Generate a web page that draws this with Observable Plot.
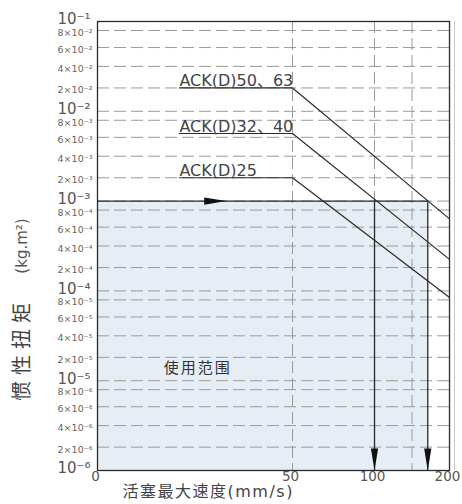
<!DOCTYPE html>
<html>
<head>
<meta charset="utf-8">
<script src="https://cdn.jsdelivr.net/npm/d3@7"></script>
<script src="https://cdn.jsdelivr.net/npm/@observablehq/plot@0.6"></script>
<style>
  html, body { margin: 0; padding: 0; background: #fff; }
</style>
</head>
<body>
<script>
// ---- data ----
const seriesNames = ["ACK(D)50、63", "ACK(D)32、40", "ACK(D)25"];
const labelSpeed = [21, 21, 21];          // mm/s where the plateau (and label) starts
const kneeSpeed = [50, 50, 50];           // mm/s where the curve starts falling
const endSpeed = [200, 200, 200];         // mm/s
const plateauInertia = [2e-2, 6.4e-3, 2e-3]; // kg·m²
const endInertia = [6.9e-4, 2.6e-4, 8.5e-5]; // kg·m² at 200 mm/s

const rangeLimitInertia = 1e-3;           // top of 使用范围
const rangeMaxSpeed = 171;                // right edge of 使用范围
const arrowSpeeds = [100, 171];           // vertical arrows
const arrowHeadSpeed = [33];              // horizontal arrowhead
const areaLabel = ["使用范围"];
const areaLabelSpeed = [17];
const areaLabelInertia = [1.43e-5];

const yTitleMain = "惯性扭矩";
const yTitleUnit = "(kg.m²)";
const xTitle = "活塞最大速度(mm/s)";

const xTicks = [0, 50, 100, 200];
const xGrid = [50, 100, 150];
const yDecades = [1e-6, 1e-5, 1e-4, 1e-3, 1e-2, 1e-1];
const yMantissas = [2, 4, 6, 8];
const yMinor = [];
for (let e = -6; e <= -2; e++) for (const m of yMantissas) yMinor.push(+(m * Math.pow(10, e)).toPrecision(3));

// ---- layout ----
const W = 462, H = 504;
const mL = 97, mR = 13, mT = 21, mB = 34;
// grid spacing inside one decade as drawn in the chart (1,2,4,6,8)
const decadeFrac = [0, 0.26, 0.50, 0.71, 0.90];
const yDomain = [], yRange = [];
const y0 = H - mB, y1 = mT, nDec = 5;
for (let k = 0; k < nDec; k++) {
  [1, 2, 4, 6, 8].forEach((m, j) => {
    yDomain.push(+(m * Math.pow(10, k - 6)).toPrecision(3));
    yRange.push(y0 - (k + decadeFrac[j]) / nDec * (y0 - y1));
  });
}
yDomain.push(1e-1); yRange.push(y1);
const xFrac = [0, 0.554, 0.787, 1];
const xRange = xFrac.map(f => mL + f * (W - mL - mR));

// ---- helpers ----
const sup = {"-": "⁻", "0": "⁰", "1": "¹", "2": "²", "3": "³", "4": "⁴", "5": "⁵", "6": "⁶", "7": "⁷", "8": "⁸", "9": "⁹"};
const toSup = s => String(s).split("").map(c => sup[c]).join("");
const expOf = v => Math.floor(Math.log10(v) + 1e-9);
const fmtDecade = v => "10" + toSup(expOf(v));
const fmtMinor = v => { const e = expOf(v); return Math.round(v / Math.pow(10, e)) + "×10" + toSup(e); };

const arrowDown = { draw(ctx) { ctx.moveTo(0, 0); ctx.lineTo(-3.6, -22); ctx.lineTo(3.6, -22); ctx.closePath(); } };
const arrowRight = { draw(ctx) { ctx.moveTo(0, 0); ctx.lineTo(-22, -3.6); ctx.lineTo(-22, 3.6); ctx.closePath(); } };

const rows = [];
seriesNames.forEach((name, i) => {
  rows.push({series: name, speed: labelSpeed[i], inertia: plateauInertia[i]});
  rows.push({series: name, speed: kneeSpeed[i], inertia: plateauInertia[i]});
  rows.push({series: name, speed: endSpeed[i], inertia: endInertia[i]});
});
const labels = seriesNames.map((name, i) => ({name, speed: labelSpeed[i], inertia: plateauInertia[i]}));

const ink = "#2a2a2a";
const gridColor = "#9a9a9a";

const chart = Plot.plot({
  width: W, height: H,
  marginLeft: mL, marginRight: mR, marginTop: mT, marginBottom: mB,
  style: {fontFamily: "'DejaVu Sans', 'Noto Sans CJK SC', sans-serif", background: "#fff", color: ink},
  x: {type: "linear", domain: xTicks, range: xRange},
  y: {type: "log", domain: yDomain, range: yRange},
  marks: [
    Plot.rect([0], {x1: () => 0, x2: () => rangeMaxSpeed, y1: () => 1e-6, y2: () => rangeLimitInertia, fill: "#e6edf5"}),
    Plot.gridY(yMinor.concat(yDecades.slice(1, -1)), {stroke: gridColor, strokeOpacity: 1, strokeWidth: 1, strokeDasharray: "12,5"}),
    Plot.gridX(xGrid, {stroke: gridColor, strokeOpacity: 1, strokeWidth: 1, strokeDasharray: "12,5"}),
    Plot.ruleX([200], {dx: 5, stroke: "#c8c8c8"}),
    Plot.frame({stroke: ink, strokeWidth: 1.3}),
    Plot.line(rows, {x: "speed", y: "inertia", z: "series", stroke: ink, strokeWidth: 1.2}),
    Plot.ruleY([rangeLimitInertia], {x1: () => 0, x2: () => rangeMaxSpeed, stroke: ink, strokeWidth: 1.3}),
    Plot.ruleX(arrowSpeeds, {y1: () => 1e-6, y2: () => rangeLimitInertia, stroke: ink, strokeWidth: 1.3}),
    Plot.dot(arrowSpeeds, {x: d => d, y: () => 1e-6, symbol: arrowDown, fill: "#111", stroke: null}),
    Plot.dot(arrowHeadSpeed, {x: d => d, y: () => rangeLimitInertia, symbol: arrowRight, fill: "#111", stroke: null}),
    Plot.text(labels, {x: "speed", y: "inertia", text: "name", textAnchor: "start", lineAnchor: "bottom", dy: -2, fontSize: 16, fill: "#444"}),
    Plot.text(areaLabel, {x: () => areaLabelSpeed[0], y: () => areaLabelInertia[0], text: d => d, textAnchor: "start", fontSize: 15, fill: "#333", className: "arealab"}),
    Plot.axisY(yDecades, {tickSize: 0, tickPadding: 7, dy: -2, fontSize: 15, fill: "#555", tickFormat: fmtDecade, label: null}),
    Plot.text(yMinor, {y: d => d, frameAnchor: "left", textAnchor: "end", dx: -5, dy: 2.5, text: fmtMinor, fontSize: 9.5, fill: "#666"}),
    Plot.axisX(xTicks, {tickSize: 0, tickPadding: 1, dx: -2, fontSize: 13.5, fill: "#555", tickFormat: d => String(d), label: null}),
    Plot.text([yTitleMain], {frameAnchor: "left", textAnchor: "middle", text: d => d, rotate: -90, dx: -75, dy: 103, fontSize: 20, fill: "#444", className: "ylab"}),
    Plot.text([yTitleUnit], {frameAnchor: "left", textAnchor: "middle", text: d => d, rotate: -90, dx: -75, dy: 0, fontSize: 15, fill: "#555"}),
    Plot.text([xTitle], {frameAnchor: "bottom-left", text: d => d, textAnchor: "start", dx: 25, dy: 26, fontSize: 16, fill: "#444", className: "xlab"})
  ]
});
document.body.appendChild(chart);
d3.select(chart).selectAll(".ylab text").attr("letter-spacing", 6);
d3.select(chart).selectAll(".arealab text").attr("letter-spacing", 2);
d3.select(chart).selectAll(".xlab text").attr("letter-spacing", 1.5);
</script>
</body>
</html>
